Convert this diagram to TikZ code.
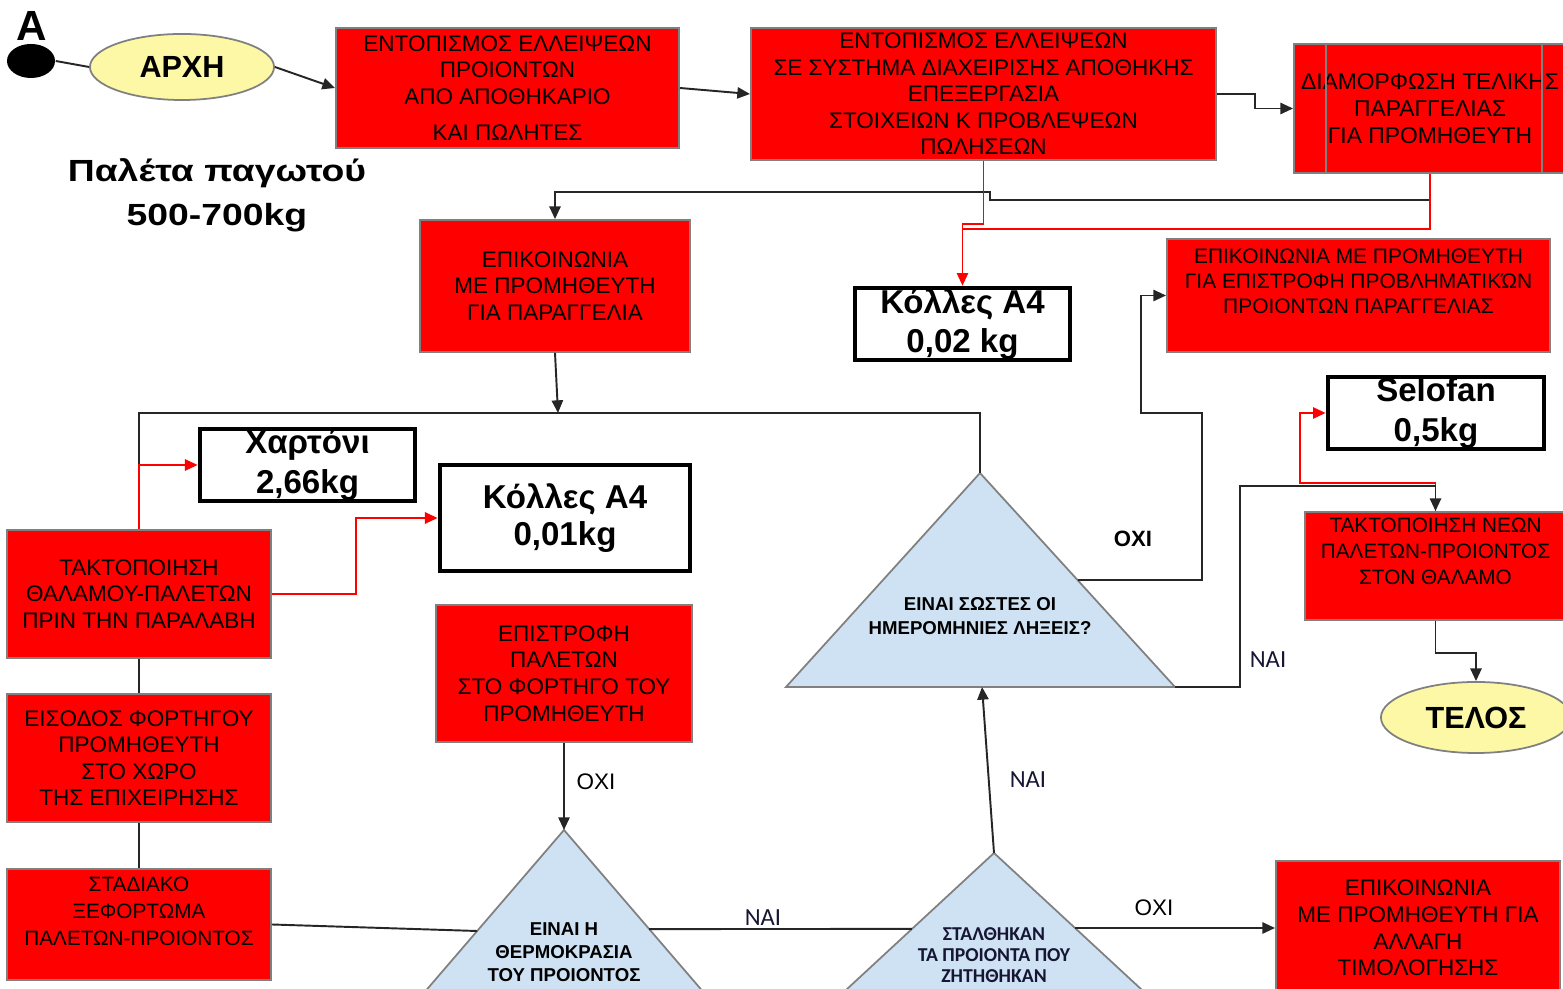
\documentclass[tikz,border=0pt]{standalone}
\usepackage{fontspec}
\setmainfont{Liberation Sans}
\newfontfamily\widesans[FakeStretch=1.22]{Liberation Sans}
\newfontfamily\calibsans{Carlito}
\usetikzlibrary{arrows.meta,shapes.geometric,calc}
\definecolor{boxred}{RGB}{255,0,0}
\definecolor{boxedge}{RGB}{128,128,128}
\definecolor{paleyellow}{RGB}{252,248,165}
\definecolor{paleblue}{RGB}{207,226,243}
\definecolor{navytext}{RGB}{22,22,52}
\begin{document}
\begin{tikzpicture}[x=0.01cm,y=-0.01cm,
  redbox/.style={draw=boxedge, line width=0.5pt, fill=boxred, align=center, inner sep=0pt,
    font=\fontsize{6.4}{7.55}\selectfont},
  wtbox/.style={draw=black, line width=1.3pt, fill=white, align=center, inner sep=0pt,
    font=\bfseries\fontsize{9.4}{11.3}\selectfont},
  term/.style={ellipse, draw=boxedge, line width=0.5pt, fill=paleyellow, inner sep=0pt,
    font=\bfseries\fontsize{8.7}{10}\selectfont},
  conn/.style={line width=0.55pt, draw=black!85},
  arr/.style={conn, -{Triangle[length=3.6pt,width=3.2pt]}},
  rconn/.style={line width=0.55pt, draw=red},
  rarr/.style={rconn, -{Triangle[length=3.6pt,width=3.2pt]}},
  tri/.style={draw=boxedge, fill=paleblue, line width=0.5pt},
  tritext/.style={align=center, inner sep=0pt, font=\bfseries\fontsize{5.3}{6.8}\selectfont},
  calibtext/.style={align=center, inner sep=0pt, text=navytext, font=\calibsans\bfseries\fontsize{5.6}{5.9}\selectfont},
  lblnai/.style={inner sep=0pt, text=navytext, font=\calibsans\fontsize{7}{8}\selectfont},
  lbloxi/.style={inner sep=0pt, font=\fontsize{6.4}{7}\selectfont},
  lbloxib/.style={inner sep=0pt, font=\bfseries\fontsize{6.3}{7}\selectfont}
]
\useasboundingbox (0,0) rectangle (1563,989);
\clip (0,0) rectangle (1563,989);

% start marker and start terminal
\node[inner sep=0pt, font=\bfseries\fontsize{12}{12}\selectfont] (mark) at (32,26) {A};
\node[ellipse, fill=black, minimum width=0.48cm, minimum height=0.34cm, inner sep=0pt] (dot) at (31,61) {};
\node[term, minimum width=1.84cm, minimum height=0.66cm] (arxi) at (182,67) {ΑΡΧΗ};
\node[inner sep=0pt, align=center, font=\widesans\bfseries\fontsize{8.7}{12.4}\selectfont] (caption) at (217,195)
  {Παλέτα παγωτού\\500-700kg};

% top row of process boxes
\node[redbox, minimum width=3.43cm, minimum height=1.20cm] (b1) at (507.5,88)
  {ΕΝΤΟΠΙΣΜΟΣ ΕΛΛΕΙΨΕΩΝ\\ΠΡΟΙΟΝΤΩΝ\\ΑΠΟ ΑΠΟΘΗΚΑΡΙΟ\\[2.8pt]ΚΑΙ ΠΩΛΗΤΕΣ};
\node[redbox, minimum width=4.65cm, minimum height=1.32cm] (b2) at (983.5,94)
  {ΕΝΤΟΠΙΣΜΟΣ ΕΛΛΕΙΨΕΩΝ\\ΣΕ ΣΥΣΤΗΜΑ ΔΙΑΧΕΙΡΙΣΗΣ ΑΠΟΘΗΚΗΣ\\ΕΠΕΞΕΡΓΑΣΙΑ\\ΣΤΟΙΧΕΙΩΝ Κ ΠΡΟΒΛΕΨΕΩΝ\\ΠΩΛΗΣΕΩΝ};
\node[redbox, minimum width=2.72cm, minimum height=1.29cm, font=\fontsize{6.5}{7.6}\selectfont] (b3) at (1430,108.5)
  {ΔΙΑΜΟΡΦΩΣΗ ΤΕΛΙΚΗΣ\\ΠΑΡΑΓΓΕΛΙΑΣ\\ΓΙΑ ΠΡΟΜΗΘΕΥΤΗ};
\draw[boxedge, line width=0.5pt] ([xshift=0.33cm]b3.north west) -- ([xshift=0.33cm]b3.south west);
\draw[boxedge, line width=0.5pt] ([xshift=-0.25cm]b3.north east) -- ([xshift=-0.25cm]b3.south east);

% middle boxes and material boxes
\node[redbox, minimum width=2.70cm, minimum height=1.32cm] (epik1) at (555,286)
  {ΕΠΙΚΟΙΝΩΝΙΑ\\ΜΕ ΠΡΟΜΗΘΕΥΤΗ\\ΓΙΑ ΠΑΡΑΓΓΕΛΙΑ};
\node[redbox, minimum width=3.83cm, minimum height=1.13cm, font=\fontsize{5.95}{7.2}\selectfont] (epik2) at (1358.5,295.5)
  {ΕΠΙΚΟΙΝΩΝΙΑ ΜΕ ΠΡΟΜΗΘΕΥΤΗ\\ΓΙΑ ΕΠΙΣΤΡΟΦΗ ΠΡΟΒΛΗΜΑΤΙΚΏΝ\\ΠΡΟΙΟΝΤΩΝ ΠΑΡΑΓΓΕΛΙΑΣ\\[1pt]~};
\node[wtbox, minimum width=2.15cm, minimum height=0.72cm] (kolla2) at (962.5,324) {Κόλλες A4\\0,02 kg};
\node[wtbox, minimum width=2.16cm, minimum height=0.72cm] (selofan) at (1436,413) {Selofan\\0,5kg};
\node[wtbox, minimum width=2.15cm, minimum height=0.72cm] (xartoni) at (307.5,465) {Χαρτόνι\\2,66kg};
\node[wtbox, minimum width=2.50cm, minimum height=1.06cm, font=\bfseries\fontsize{9.4}{10.6}\selectfont] (kolla1) at (565,518) {Κόλλες A4\\0,01kg};

% left column
\node[redbox, minimum width=2.64cm, minimum height=1.28cm] (takt1) at (139,594)
  {ΤΑΚΤΟΠΟΙΗΣΗ\\ΘΑΛΑΜΟΥ-ΠΑΛΕΤΩΝ\\ΠΡΙΝ ΤΗΝ ΠΑΡΑΛΑΒΗ};
\node[redbox, minimum width=2.64cm, minimum height=1.28cm] (eisodos) at (139,758)
  {ΕΙΣΟΔΟΣ ΦΟΡΤΗΓΟΥ\\ΠΡΟΜΗΘΕΥΤΗ\\ΣΤΟ ΧΩΡΟ\\ΤΗΣ ΕΠΙΧΕΙΡΗΣΗΣ};
\node[redbox, minimum width=2.64cm, minimum height=1.11cm, font=\fontsize{5.9}{7.55}\selectfont] (stadiako) at (139,924.5)
  {ΣΤΑΔΙΑΚΟ\\ΞΕΦΟΡΤΩΜΑ\\ΠΑΛΕΤΩΝ-ΠΡΟΙΟΝΤΟΣ\\~};
\node[redbox, minimum width=2.56cm, minimum height=1.37cm] (epistrofi) at (564,673.5)
  {ΕΠΙΣΤΡΟΦΗ\\ΠΑΛΕΤΩΝ\\ΣΤΟ ΦΟΡΤΗΓΟ ΤΟΥ\\ΠΡΟΜΗΘΕΥΤΗ};

% right column
\node[redbox, minimum width=2.61cm, minimum height=1.08cm, font=\fontsize{5.9}{7.3}\selectfont] (takt2) at (1435.5,566)
  {ΤΑΚΤΟΠΟΙΗΣΗ ΝΕΩΝ\\ΠΑΛΕΤΩΝ-ΠΡΟΙΟΝΤΟΣ\\ΣΤΟΝ ΘΑΛΑΜΟ\\[1pt]~};
\node[term, minimum width=1.90cm, minimum height=0.71cm] (telos) at (1476,717.5) {ΤΕΛΟΣ};
\node[redbox, minimum width=2.84cm, minimum height=1.34cm] (allagi) at (1418,928)
  {ΕΠΙΚΟΙΝΩΝΙΑ\\ΜΕ ΠΡΟΜΗΘΕΥΤΗ ΓΙΑ\\ΑΛΛΑΓΗ\\ΤΙΜΟΛΟΓΗΣΗΣ};

% decision triangles
\coordinate (t3a) at (980,473);  \coordinate (t3l) at (786,687);  \coordinate (t3r) at (1175,687);
\coordinate (t1a) at (564,830);  \coordinate (t1l) at (380,1044); \coordinate (t1r) at (748,1044);
\coordinate (t2a) at (994,853);  \coordinate (t2l) at (792,1040); \coordinate (t2r) at (1196,1040);
\draw[tri] (t3a) -- (t3l) -- (t3r) -- cycle;
\draw[tri] (t1a) -- (t1l) -- (t1r) -- cycle;
\draw[tri] (t2a) -- (t2l) -- (t2r) -- cycle;
\node[tritext] (q3) at (980,616) {ΕΙΝΑΙ ΣΩΣΤΕΣ ΟΙ\\ΗΜΕΡΟΜΗΝΙΕΣ ΛΗΞΕΙΣ?};
\node[tritext, font=\bfseries\fontsize{5.3}{6.6}\selectfont] (q1) at (564,952) {ΕΙΝΑΙ Η\\ΘΕΡΜΟΚΡΑΣΙΑ\\ΤΟΥ ΠΡΟΙΟΝΤΟΣ};
\node[calibtext] (q2) at (994,955) {ΣΤΑΛΘΗΚΑΝ\\ΤΑ ΠΡΟΙΟΝΤΑ ΠΟΥ\\ΖΗΤΗΘΗΚΑΝ};

\coordinate (t1L) at ($(t1a)!0.472!(t1l)$);
\coordinate (t1R) at ($(t1a)!0.463!(t1r)$);
\coordinate (t2L) at ($(t2a)!0.406!(t2l)$);
\coordinate (t2R) at ($(t2a)!0.401!(t2r)$);
\coordinate (t3R) at ($(t3a)!0.5!(t3r)$);
\coordinate (t3B) at ($(t3l)!0.504!(t3r)$);

% junction points of the routed lines
\coordinate (busL) at (139,413);
\coordinate (busR) at (980,413);
\coordinate (busIn) at (558,413);
\coordinate (rj) at (962.5,229);
\coordinate (oxiUp) at (1202,413);
\coordinate (oxiL) at (1141,413);
\coordinate (naiUp) at (1240,486);
\coordinate (redJ) at (1300,483);

% connectors, top
\draw[conn] (dot.east) -- (arxi.west);
\draw[arr] (arxi.east) -- (b1.west);
\draw[arr] (b1.east) -- (b2.west);
\draw[arr] (b2.east) -- ++(38,0) |- (b3.west);
\draw[arr] (b3.south) |- (990,200) |- (555,192) -- (epik1.north);
\draw[rarr] (b2.south) |- (962.5,224) -- (kolla2.north);
\draw[rconn] (b3.south) |- (rj);
\draw[arr] (epik1.south) -- (busIn);

% left column
\draw[conn] (takt1.north) -- (busL) -- (busR) -- (t3a);
\draw[rarr] (takt1.north) |- (xartoni.west);
\draw[rarr] (takt1.east) -- ++(84,0) |- (kolla1.west);
\draw[conn] (takt1.south) -- (eisodos.north);
\draw[conn] (eisodos.south) -- (stadiako.north);
\draw[conn] (stadiako.east) -- (t1L);

% decisions
\draw[arr] (epistrofi.south) -- (t1a);
\draw[conn] (t1R) -- (t2L);
\draw[arr] (t2R) -- (allagi.west);
\draw[arr] (t2a) -- (t3B);
\draw[arr] (t3R) -| (oxiUp) -- (oxiL) |- (epik2.west);
\draw[rarr] (takt2.north) |- (redJ) |- (selofan.west);
\draw[arr] (t3r) -| (naiUp) -| (takt2.north);
\draw[arr] (takt2.south) -- ++(0,32) -| (telos.north);

% branch labels
\node[lbloxib] (oxi3) at (1133,539) {ΟΧΙ};
\node[lblnai] (nai1) at (1268,660) {ΝΑΙ};
\node[lblnai] (nai2) at (1028,780) {ΝΑΙ};
\node[lblnai] (nai3) at (763,918) {ΝΑΙ};
\node[lbloxi] (oxi1) at (596,782) {ΟΧΙ};
\node[lbloxi] (oxi2) at (1154,908) {ΟΧΙ};
\end{tikzpicture}
\end{document}
